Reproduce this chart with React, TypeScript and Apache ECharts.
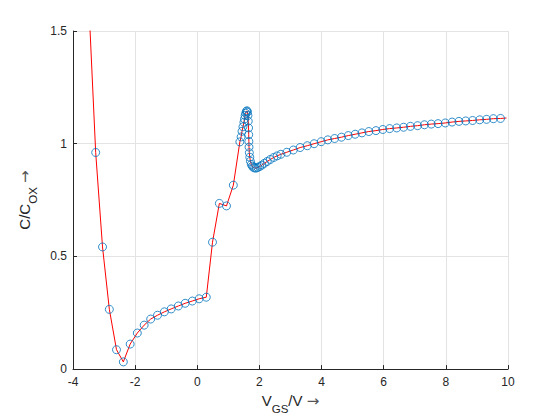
import React, { useEffect, useRef } from "react";
import * as echarts from "echarts";

// Gate voltage samples (V) and normalised capacitance C/Cox
const vgs: number[] = [
  -3.49, -3.27, -3.05, -2.83, -2.6, -2.38, -2.16, -1.93, -1.71, -1.5, -1.28,
  -1.06, -0.84, -0.61, -0.39, -0.16, 0.06, 0.29, 0.49, 0.71, 0.94, 1.16, 1.37,
  1.41, 1.44, 1.47, 1.5, 1.52, 1.54, 1.56, 1.58, 1.6, 1.615, 1.63, 1.64, 1.65,
  1.655, 1.66, 1.665, 1.675, 1.69, 1.71, 1.74, 1.77, 1.81, 1.85, 1.9, 1.95,
  2.01, 2.08, 2.16, 2.25, 2.35, 2.46, 2.57, 2.69, 2.88, 3.09, 3.31, 3.54, 3.76,
  3.99, 4.2, 4.42, 4.64, 4.86, 5.08, 5.3, 5.52, 5.75, 5.97, 6.19, 6.42, 6.64,
  6.86, 7.09, 7.31, 7.53, 7.75, 7.98, 8.2, 8.42, 8.64, 8.86, 9.09, 9.31, 9.53,
  9.76,
];
const cRatio: number[] = [
  1.62, 0.961, 0.542, 0.265, 0.086, 0.032, 0.111, 0.16, 0.195, 0.222, 0.239,
  0.254, 0.267, 0.28, 0.292, 0.302, 0.312, 0.319, 0.563, 0.735, 0.724, 0.816,
  1.008, 1.03, 1.055, 1.075, 1.095, 1.11, 1.125, 1.135, 1.143, 1.146, 1.14,
  1.125, 1.1, 1.07, 1.04, 1.01, 0.985, 0.96, 0.94, 0.922, 0.908, 0.9, 0.895,
  0.892, 0.892, 0.895, 0.899, 0.905, 0.913, 0.921, 0.93, 0.939, 0.946, 0.953,
  0.962, 0.972, 0.983, 0.991, 1.0, 1.009, 1.017, 1.023, 1.029, 1.036, 1.042,
  1.048, 1.054, 1.058, 1.063, 1.067, 1.07, 1.073, 1.077, 1.08, 1.084, 1.087,
  1.089, 1.092, 1.096, 1.099, 1.101, 1.103, 1.106, 1.108, 1.111, 1.112,
];
// the fitted line runs a little past the last sample
const lineEndV: number[] = [9.95];
const lineEndC: number[] = [1.114];

const xTicks: number[] = [-4, -2, 0, 2, 4, 6, 8, 10];
const yTicks: number[] = [0, 0.5, 1, 1.5];

const FONT = "'Liberation Sans', Arial, Helvetica, sans-serif";
const INK = "#262626";

export default function App() {
  const ref = useRef<HTMLDivElement>(null);
  useEffect(() => {
    if (!ref.current) return;
    const chart = echarts.init(ref.current, undefined, { renderer: "svg" });
    const pts = vgs.map((v, i) => [v, cRatio[i]]);
    const linePts = pts.concat(lineEndV.map((v, i) => [v, lineEndC[i]]));
    const axisCommon = {
      axisLine: { show: true, onZero: false, lineStyle: { color: INK, width: 1 } },
      axisTick: { show: true, inside: true, length: 4, lineStyle: { color: INK, width: 1 } },
      splitLine: { show: true, lineStyle: { color: "#e3e3e3", width: 1 } },
      axisLabel: { color: INK, fontSize: 12, fontFamily: FONT },
      nameLocation: "middle" as const,
      nameTextStyle: {
        color: INK,
        fontFamily: FONT,
        rich: {
          v: { fontSize: 15, lineHeight: 15, verticalAlign: "top", color: INK, fontFamily: FONT },
          s: { fontSize: 11.5, lineHeight: 11.5, verticalAlign: "top", padding: [10, 0, 0, 0], color: INK, fontFamily: FONT },
          a: { fontSize: 15, lineHeight: 15, verticalAlign: "top", color: "#555555", fontFamily: "'DejaVu Sans', sans-serif" },
        },
      },
    };
    chart.setOption({
      animation: false,
      backgroundColor: "#ffffff",
      textStyle: { fontFamily: FONT },
      grid: { left: 73, right: 52, top: 31, bottom: 46, containLabel: false },
      xAxis: {
        type: "value",
        min: xTicks[0],
        max: xTicks[xTicks.length - 1],
        interval: xTicks[1] - xTicks[0],
        ...axisCommon,
        axisLabel: { ...axisCommon.axisLabel, margin: 7 },
        name: "{v|V}{s|GS}{v|/V }{a|→}",
        nameGap: 22,
      },
      yAxis: {
        type: "value",
        min: yTicks[0],
        max: yTicks[yTicks.length - 1],
        interval: yTicks[1] - yTicks[0],
        ...axisCommon,
        axisLabel: { ...axisCommon.axisLabel, margin: 6 },
        name: "{v|C/C}{s|OX}{v| }{a|→}",
        nameRotate: 90,
        nameGap: 25,
      },
      series: [
        {
          type: "line",
          data: linePts,
          symbol: "none",
          showSymbol: false,
          clip: true,
          silent: true,
          lineStyle: { color: "#ff0000", width: 1 },
          z: 2,
        },
        {
          type: "scatter",
          data: pts,
          symbol: "circle",
          symbolSize: 8,
          clip: true,
          silent: true,
          itemStyle: { color: "rgba(0,0,0,0)", borderColor: "#0072BD", borderWidth: 1 },
          z: 3,
        },
      ],
    });
    return () => chart.dispose();
  }, []);
  return (
    <div
      ref={ref}
      style={{ position: "fixed", left: 0, top: 0, width: 560, height: 420 }}
    />
  );
}
